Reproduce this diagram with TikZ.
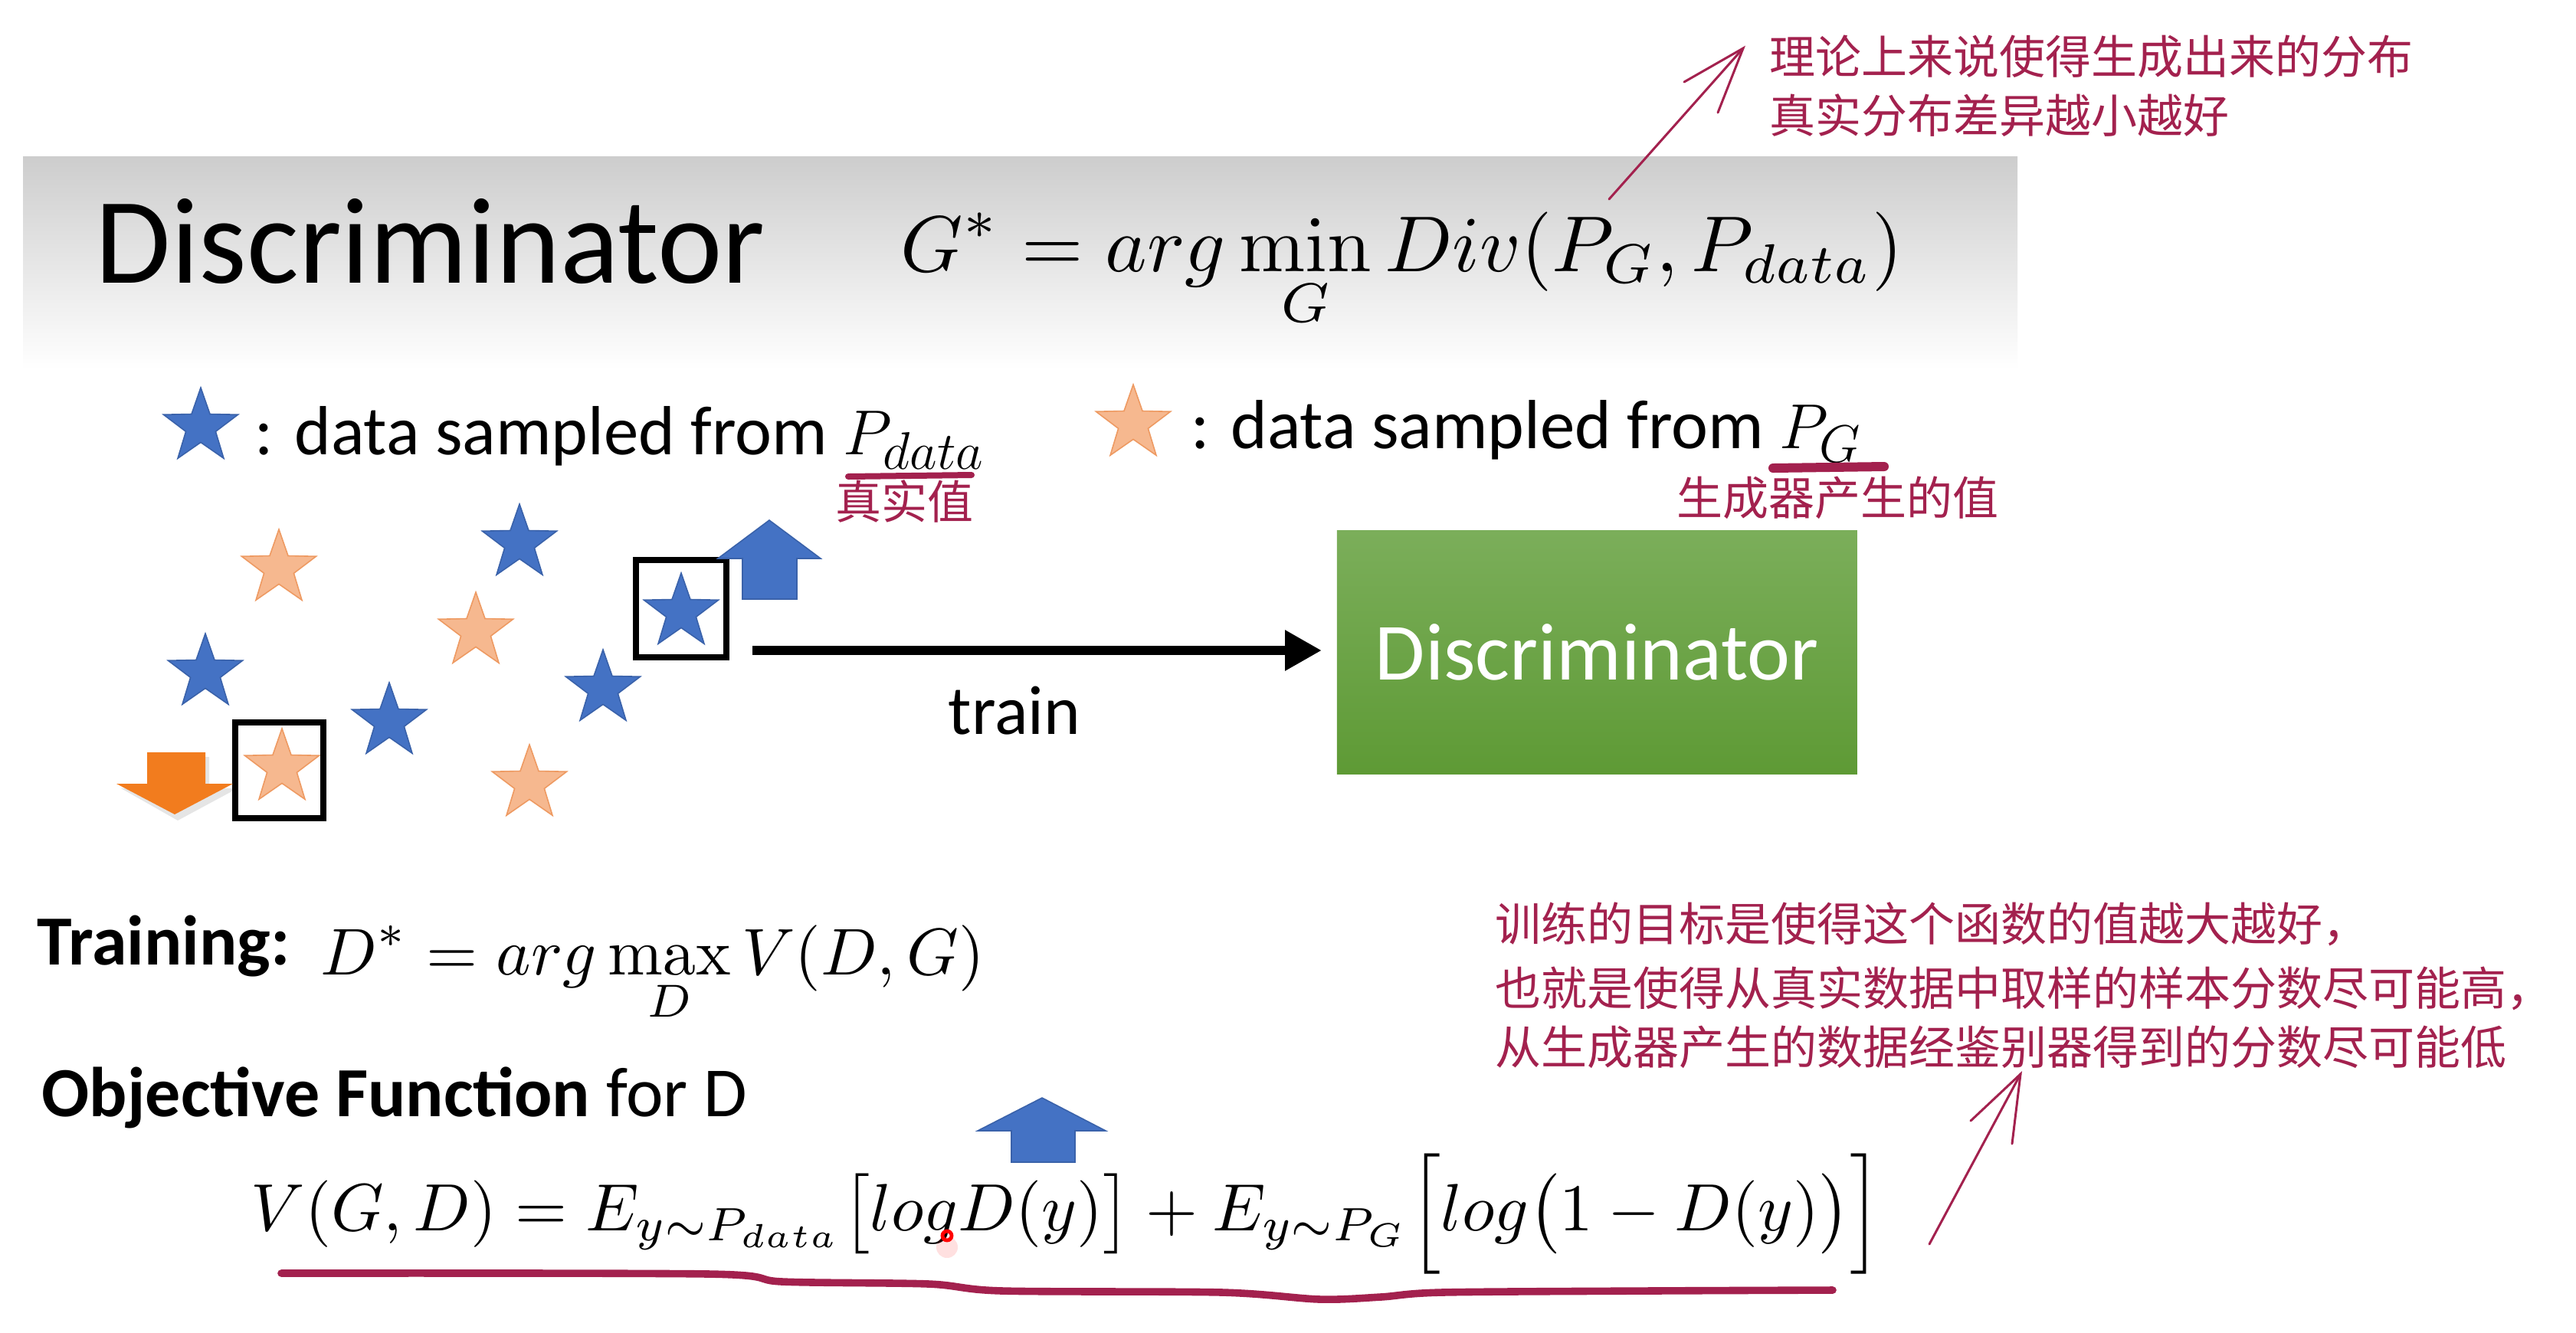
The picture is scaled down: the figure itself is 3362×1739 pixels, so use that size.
\documentclass[tikz,border=0pt]{standalone}
\usepackage[no-math]{fontspec}
\setmainfont{Carlito}
\newfontfamily\cjk{Noto Sans CJK SC}
\usepackage{graphicx}
\usetikzlibrary{shapes.geometric,arrows.meta}
\definecolor{annred}{HTML}{A3214E}
\definecolor{sblue}{HTML}{4472C4}
\definecolor{sbluedark}{HTML}{3A62AA}
\definecolor{sorange}{HTML}{F6B88F}
\definecolor{sorangeline}{HTML}{EE9A62}
\definecolor{darrow}{HTML}{F27C1E}
\definecolor{gtop}{HTML}{7BAE5A}
\definecolor{gbot}{HTML}{5E9A35}
\definecolor{hdrtop}{HTML}{CDCDCD}
\tikzset{
  starbase/.style={star, star points=5, star point ratio=2.5, minimum size=25.5pt, inner sep=0pt, line width=0.4pt},
  bstar/.style={starbase, fill=sblue, draw=sbluedark},
  ostar/.style={starbase, fill=sorange, draw=sorangeline},
  selbox/.style={draw=black, line width=1.8pt, inner sep=0pt},
  anntext/.style={text=annred, font=\cjk\fontsize{15}{18}\selectfont, inner sep=0pt},
  annline/.style={draw=annred, line width=0.75pt, line cap=round},
  uline/.style={draw=annred, line width=2.4pt, line cap=round, line join=round},
  plain/.style={inner sep=0pt},
  legendfont/.style={font=\fontsize{22.7}{27}\selectfont},
  bigfont/.style={font=\bfseries\fontsize{23}{28}\selectfont},
  blockblue/.style={fill=sblue, draw=sbluedark, line width=0.4pt},
  trainarrow/.style={line width=3.2pt, -{Triangle[length=12pt,width=12.5pt]}}
}
\begin{document}
\begin{tikzpicture}[x=0.25pt,y=-0.25pt]
\useasboundingbox (0,0) rectangle (3362,1739);
\fill[white] (0,0) rectangle (3362,1739);
% header band
\shade[top color=hdrtop, bottom color=white] (30,204) rectangle (2633,482);
\node[plain, anchor=base west, font=\fontsize{40}{48}\selectfont] (title) at (124,369) {Discriminator};
\node[plain, anchor=base west] (gstar) at (1175,354) {\resizebox{327pt}{!}{$\displaystyle G^* = arg\min_G Div(P_G,P_{data})$}};

% top annotation
\node[anntext, anchor=base west] (ann1a) at (2309,96) {理论上来说使得生成出来的分布};
\node[anntext, anchor=base west] (ann1b) at (2309,173) {真实分布差异越小越好};
\coordinate (a1start) at (2100,260);
\coordinate (a1tip) at (2275,63);
\draw[annline] (a1start) -- (a1tip);
\draw[annline] (2198,107) -- (a1tip) -- (2242,147);

% legend
\node[bstar] (legb) at (262,557) {};
\node[plain, anchor=base west, legendfont] (legbt) at (332,593) {: data sampled from $P_{data}$};
\node[ostar] (lego) at (1479,553) {};
\node[plain, anchor=base west, legendfont] (legot) at (1554,585) {: data sampled from $P_G$};
\draw[uline, line width=2pt] (1107,622) -- (1268,620);
\draw[uline, line width=3pt] (2314,611) -- (2459,609);
\node[anntext] (realval) at (1180,654) {真实值};
\node[anntext] (genval) at (2398,650) {生成器产生的值};

% stars
\node[ostar] (s1) at (364,742) {};
\node[bstar] (s2) at (678,709) {};
\node[ostar] (s3) at (621,824) {};
\node[bstar] (s4) at (268,878) {};
\node[bstar] (s5) at (508,942) {};
\node[bstar] (s6) at (787,899) {};
\node[ostar] (s7) at (691,1023) {};
\node[ostar] (s8) at (368,1002) {};
\node[bstar] (s9) at (889,799) {};
\node[selbox, minimum width=29.5pt, minimum height=31.75pt] (boxb) at (889,794.5) {};
\node[selbox, minimum width=28.75pt, minimum height=31.25pt] (boxo) at (364.5,1005.5) {};

% block arrows
\fill[blockblue] (1004,679) -- (1071,729) -- (1040,729) -- (1040,782) -- (969,782) -- (969,729) -- (937,729) -- cycle;
\fill[black, opacity=0.10] (232,1071) -- (310,1029) -- (273,1029) -- (273,988) -- (197,988) -- (197,1029) -- (158,1029) -- cycle;
\fill[darrow] (228,1063) -- (304,1023) -- (268,1023) -- (268,982) -- (192,982) -- (192,1023) -- (152,1023) -- cycle;

% discriminator box
\node[top color=gtop, bottom color=gbot, minimum width=169.75pt, minimum height=79.5pt, anchor=north west, inner sep=0pt, text=white, font=\fontsize{26.5}{30}\selectfont] (disc) at (1744,692) {Discriminator};
\coordinate (trainstart) at (982,849);
\draw[trainarrow, shorten >=4.75pt] (trainstart) -- (trainstart -| disc.west);
\node[plain, anchor=base, legendfont] (trainlbl) at (1324,958) {train};

% training
\node[plain, anchor=base west, bigfont] (training) at (48,1259) {Training:};
\node[plain, anchor=base west] (dstar) at (418,1272) {\resizebox{216.5pt}{!}{$\displaystyle D^* = arg\max_D V(D,G)$}};
\node[plain, anchor=base west, font=\fontsize{23}{28}\selectfont] (objective) at (54,1457) {\textbf{Objective Function} for D};
\fill[blockblue] (1360,1433) -- (1443,1476) -- (1403,1476) -- (1403,1517) -- (1320,1517) -- (1320,1476) -- (1276,1476) -- cycle;
\node[plain, anchor=base west] (vgd) at (327,1606) {\resizebox{532pt}{!}{$V(G,D) = E_{y\sim P_{data}}\big[log D(y)\big] + E_{y\sim P_G}\Big[log\big(1-D(y)\big)\Big]$}};
\fill[red, opacity=0.12] (1236,1628) circle (14);
\draw[red, line width=1.2pt] (1236,1613) circle (6);
\draw[uline] plot[smooth, tension=0.5] coordinates {(367,1662) (925,1663) (1021,1673) (1212,1676) (1308,1685) (1595,1687) (1722,1696) (1802,1693) (1882,1687) (2153,1685) (2392,1684)};

% bottom annotation
\node[anntext, anchor=base west] (ann2a) at (1951,1228) {训练的目标是使得这个函数的值越大越好，};
\node[anntext, anchor=base west] (ann2b) at (1951,1312) {也就是使得从真实数据中取样的样本分数尽可能高，};
\node[anntext, anchor=base west] (ann2c) at (1951,1389) {从生成器产生的数据经鉴别器得到的分数尽可能低};
\coordinate (a2start) at (2518,1624);
\coordinate (a2tip) at (2637,1402);
\draw[annline] (a2start) -- (a2tip);
\draw[annline] (2572,1463) -- (a2tip) -- (2626,1493);
\end{tikzpicture}
\end{document}
